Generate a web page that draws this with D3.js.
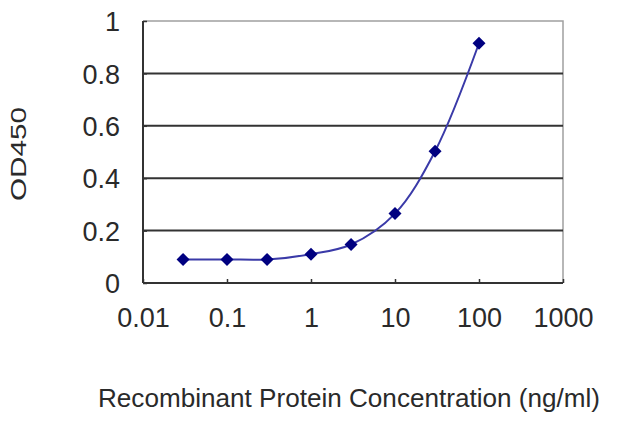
<!DOCTYPE html>
<html>
<head>
<meta charset="utf-8">
<script src="https://cdn.jsdelivr.net/npm/d3@7"></script>
<style>
  body { margin: 0; background: #fff; }
  text { font-family: "Liberation Sans", Arial, sans-serif; fill: #2a2a2a; }
</style>
</head>
<body>
<div id="chart"></div>
<script>
// concentrations (ng/ml) and measured OD450
const concentrations = [0.03, 0.1, 0.3, 1, 3, 10, 30, 100];
const odValues = [0.09, 0.09, 0.09, 0.11, 0.147, 0.265, 0.503, 0.915];
const xTicks = [0.01, 0.1, 1, 10, 100, 1000];
const xTickLabels = ["0.01", "0.1", "1", "10", "100", "1000"];
const yTicks = [0, 0.2, 0.4, 0.6, 0.8, 1];
const yTickLabels = ["0", "0.2", "0.4", "0.6", "0.8", "1"];

document.addEventListener("DOMContentLoaded", function () {
    drawChart();
});

function drawChart() {
    const W = 640, H = 427;
    const margin = {top: 21, right: 77, bottom: 144, left: 143};
    const width = W - margin.left - margin.right;
    const height = H - margin.top - margin.bottom;

    const svg = d3.select("#chart")
        .append("svg")
        .attr("width", W)
        .attr("height", H);

    const g = svg.append("g")
        .attr("transform", `translate(${margin.left},${margin.top})`);

    const x = d3.scaleLog()
        .domain([0.01, 1000])
        .range([0, width]);

    const y = d3.scaleLinear()
        .domain([0, 1])
        .range([height, 0]);

    // top and right border (light)
    g.append("path")
        .attr("d", `M0,0H${width}V${height}`)
        .attr("fill", "none")
        .attr("stroke", "#a0a0a0")
        .attr("stroke-width", 1.5);

    // gridlines
    g.selectAll(".grid")
        .data(yTicks.filter(d => d > 0 && d < 1))
        .enter()
        .append("line")
        .attr("class", "grid")
        .attr("x1", 0)
        .attr("x2", width)
        .attr("y1", d => y(d))
        .attr("y2", d => y(d))
        .attr("stroke", "#333")
        .attr("stroke-width", 2);

    // y axis
    const yAxis = g.append("g")
        .call(d3.axisLeft(y).tickValues(yTicks).tickSize(-4).tickFormat((d, i) => yTickLabels[i]));
    yAxis.select(".domain").attr("stroke", "#333").attr("stroke-width", 2).attr("d", `M0,0V${height}`);
    yAxis.selectAll(".tick line").attr("stroke", "#333").attr("stroke-width", 1.5);
    yAxis.selectAll(".tick text")
        .attr("x", -23)
        .attr("dy", "0.36em")
        .style("font-size", "27px")
        .attr("fill", "#2a2a2a");

    // x axis
    const xAxis = g.append("g")
        .attr("transform", `translate(0,${height})`)
        .call(d3.axisBottom(x).tickValues(xTicks).tickSize(-4).tickFormat((d, i) => xTickLabels[i]));
    xAxis.select(".domain").attr("stroke", "#333").attr("stroke-width", 2).attr("d", `M0,0H${width}`);
    xAxis.selectAll(".tick line").attr("stroke", "#333").attr("stroke-width", 1.5);
    xAxis.selectAll(".tick text")
        .attr("y", 44)
        .attr("dy", 0)
        .style("font-size", "27px")
        .attr("fill", "#2a2a2a");

    // smoothed curve
    const pts = concentrations.map((c, i) => ({c: c, v: odValues[i]}));
    const line = d3.line()
        .x(d => x(d.c))
        .y(d => y(d.v))
        .curve(d3.curveCatmullRom.alpha(0.5));

    g.append("path")
        .datum(pts)
        .attr("d", line)
        .attr("fill", "none")
        .attr("stroke", "#3a3aa8")
        .attr("stroke-width", 2);

    // diamond markers
    g.selectAll(".dot")
        .data(pts)
        .enter()
        .append("path")
        .attr("class", "dot")
        .attr("transform", d => `translate(${x(d.c)},${y(d.v)})`)
        .attr("d", "M0,-6.5L6.5,0L0,6.5L-6.5,0Z")
        .attr("fill", "#000080");

    // axis titles
    svg.append("text")
        .attr("x", 98)
        .attr("y", 407)
        .attr("textLength", 502)
        .attr("lengthAdjust", "spacingAndGlyphs")
        .style("font-size", "26px")
        .text("Recombinant Protein Concentration (ng/ml)");

    svg.append("text")
        .attr("transform", "translate(26,201) rotate(-90)")
        .attr("textLength", 94)
        .attr("lengthAdjust", "spacingAndGlyphs")
        .style("font-size", "22px")
        .text("OD450");
}
</script>
</body>
</html>
